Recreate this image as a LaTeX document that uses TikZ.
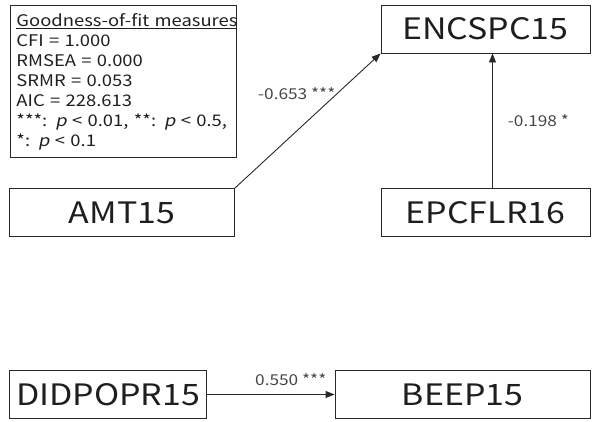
\documentclass[tikz,border=0pt]{standalone}
\usepackage{fontspec}
\setmainfont{Noto Sans CJK JP}[FakeStretch=1.15, ItalicFont=Noto Sans CJK JP, ItalicFeatures={FakeSlant=0.2}]
\usepackage{tikz}
\usetikzlibrary{arrows.meta,positioning}
\usepackage{xcolor}
\definecolor{pathgray}{RGB}{40,40,40}
\definecolor{textgray}{RGB}{30,30,30}
\definecolor{labelgray}{RGB}{70,70,70}
\tikzstyle{patharrow} = [line width=0.9pt,-{Triangle[length=9pt,width=7pt]},color=pathgray]
\tikzstyle{obsbox} = [rectangle, draw=pathgray, line width=0.9pt, minimum height=48pt, inner sep=0pt, text=textgray, font=\fontsize{29.5}{29.5}\selectfont]
\tikzstyle{coeflabel} = [color=labelgray, font=\fontsize{15}{15}\selectfont, inner sep=1pt]

\begin{document}
\begin{tikzpicture}[x=1pt,y=-1pt]
\useasboundingbox (0,0) rectangle (594,421);
% fit measures box
\node (fit) [rectangle, draw=pathgray, line width=0.9pt, anchor=north west, minimum width=224pt, minimum height=152pt, text width=214pt, inner sep=6pt, align=left, text=textgray, font=\fontsize{16}{20}\selectfont] at (10,5) {
\underline{Goodness-of-fit measures}\\
CFI = 1.000\\
RMSEA = 0.000\\
SRMR = 0.053\\
AIC = 228.613\\
{}***: \textit{p} < 0.01, **: \textit{p} < 0.5,\\
{}*: \textit{p} < 0.1
};

% observed variables
\node (encspc) [obsbox, minimum width=209pt] at (485.5,29) {ENCSPC15};
\node (amt) [obsbox, minimum width=225pt] at (122,212.5) {AMT15};
\node (epcflr) [obsbox, minimum width=209pt] at (485.5,212.5) {EPCFLR16};
\node (didpopr) [obsbox, minimum width=197pt] at (108,394.5) {DIDPOPR15};
\node (beep) [obsbox, minimum width=255pt] at (462.5,394.5) {BEEP15};

\draw[patharrow] (amt.north east) -- node[coeflabel, midway, xshift=-11pt, yshift=27pt] {-0.653 ***} (encspc.south west);
\draw[patharrow] ([xshift=7pt]epcflr.north) -- node[coeflabel, midway, right, xshift=14pt] {-0.198 *} ([xshift=7pt]encspc.south);
\draw[patharrow] (didpopr.east) -- node[coeflabel, midway, above, xshift=20pt, yshift=7pt] {0.550 ***} (beep.west);
\end{tikzpicture}
\end{document}
